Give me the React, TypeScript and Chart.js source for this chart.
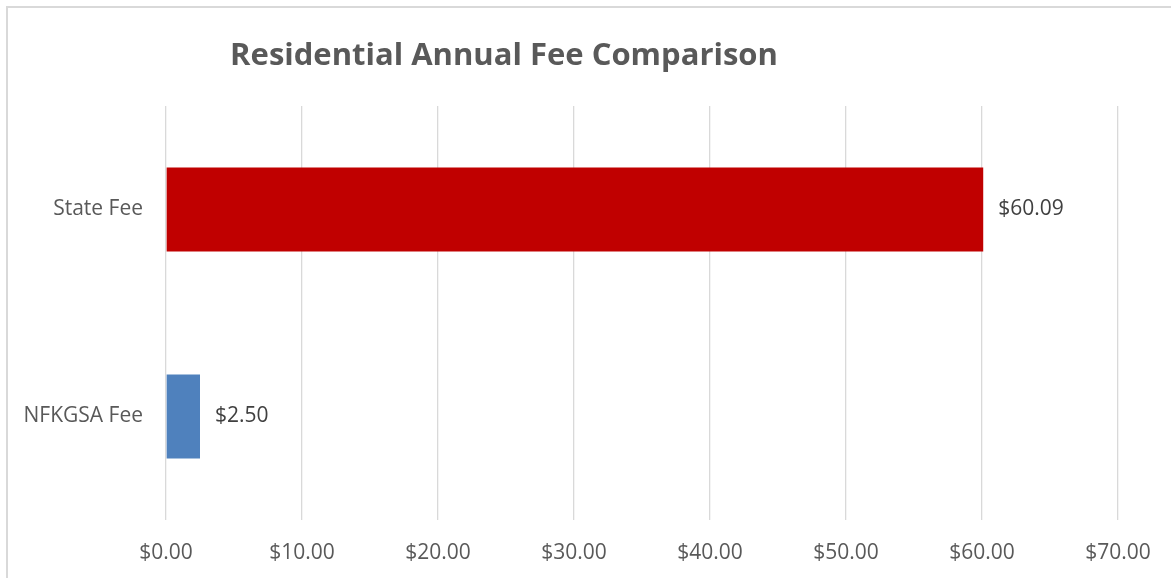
import React, { useEffect, useRef } from "react";
import { Chart, registerables } from "chart.js";

Chart.register(...registerables);

const categories = ["State Fee", "NFKGSA Fee"];
const feeValues = [60.09, 2.5];
const barColors = ["#C00000", "#4F81BD"];
const xTickValues = [0, 10, 20, 30, 40, 50, 60, 70];
const titleText = "Residential Annual Fee Comparison";

const money = (v: number) => "$" + Number(v).toFixed(2);

const FONT = "'Open Sans', 'Noto Sans', sans-serif";

const labelPlugin = {
  id: "barValueLabels",
  afterDatasetsDraw(chart: any) {
    const ctx = chart.ctx;
    const meta = chart.getDatasetMeta(0);
    ctx.save();
    ctx.font = `21px ${FONT}`;
    ctx.fillStyle = "#404040";
    ctx.textAlign = "left";
    ctx.textBaseline = "middle";
    meta.data.forEach((el: any, i: number) => {
      ctx.fillText(money(feeValues[i]), el.x + 15, el.y);
    });
    ctx.restore();
  },
};

const titlePlugin = {
  id: "offsetTitle",
  afterDraw(chart: any) {
    const ctx = chart.ctx;
    ctx.save();
    ctx.font = `bold 31px ${FONT}`;
    ctx.fillStyle = "#595959";
    ctx.textAlign = "center";
    ctx.textBaseline = "middle";
    ctx.fillText(titleText, 504, 56);
    ctx.restore();
  },
};

export default function App() {
  const ref = useRef<HTMLCanvasElement | null>(null);

  useEffect(() => {
    if (!ref.current) return;
    const chart = new Chart(ref.current, {
      type: "bar",
      data: {
        labels: categories,
        datasets: [
          {
            data: feeValues,
            backgroundColor: barColors,
            borderWidth: 0,
            categoryPercentage: 1,
            barPercentage: 0.405,
          },
        ],
      },
      options: {
        indexAxis: "y",
        animation: false,
        responsive: true,
        maintainAspectRatio: false,
        layout: { padding: { left: 0, right: 53, top: 106, bottom: 0 } },
        plugins: {
          legend: { display: false },
          tooltip: { enabled: false },
          title: { display: false },
        },
        scales: {
          x: {
            min: 0,
            max: 70,
            afterBuildTicks(scale: any) {
              scale.ticks = xTickValues.map((v) => ({ value: v }));
            },
            afterFit(scale: any) {
              scale.height = 58;
            },
            grid: { color: "#d9d9d9", lineWidth: 1.3, drawTicks: false },
            border: { display: false },
            ticks: {
              padding: 20,
              color: "#595959",
              font: { family: FONT, size: 21 },
              callback: (v: any) => money(Number(v)),
            },
          },
          y: {
            afterFit(scale: any) {
              scale.width = 166;
            },
            grid: { display: false, drawTicks: false },
            border: { display: false },
            ticks: {
              padding: 23,
              color: "#595959",
              font: { family: FONT, size: 21 },
            },
          },
        },
      },
      plugins: [labelPlugin, titlePlugin],
    });
    return () => chart.destroy();
  }, []);

  return (
    <div
      style={{
        position: "fixed",
        left: 0,
        top: 0,
        width: 1171,
        height: 578,
        overflow: "hidden",
        background: "#ffffff",
      }}
    >
      <div
        style={{
          position: "absolute",
          left: 6,
          top: 6,
          width: 1200,
          height: 620,
          border: "2px solid #d9d9d9",
          boxSizing: "border-box",
        }}
      />
      <div style={{ position: "absolute", left: 0, top: 0, width: 1171, height: 578 }}>
        <canvas ref={ref} />
      </div>
    </div>
  );
}
